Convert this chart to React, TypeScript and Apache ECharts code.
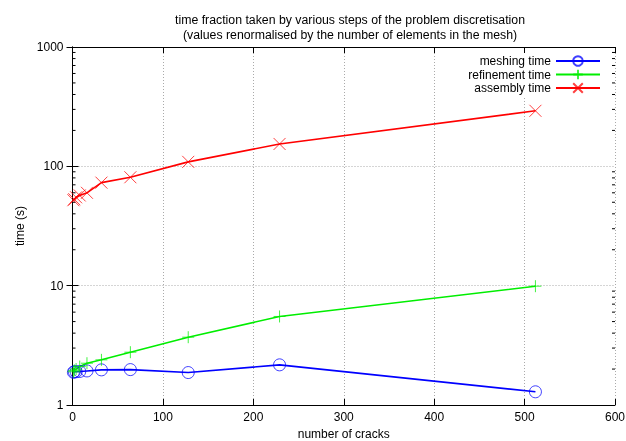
import React, { useEffect, useRef } from "react";
import * as echarts from "echarts";

const cracks = [1, 2, 4, 8, 16, 32, 64, 128, 229, 512];
const meshingTime = [1.88, 1.9, 1.9, 1.91, 1.93, 1.97, 1.98, 1.87, 2.17, 1.29];
const refinementTime = [1.9, 1.95, 2.0, 2.1, 2.24, 2.39, 2.77, 3.7, 5.52, 9.9];
const assemblyTime = [52, 53, 55, 57, 60, 73, 81, 109, 154, 292];
const xTicks = [0, 100, 200, 300, 400, 500, 600];
const yMinorTicks = [2, 3, 4, 5, 6, 7, 8, 9, 20, 30, 40, 50, 60, 70, 80, 90, 200, 300, 400, 500, 600, 700, 800, 900];
const titleLines = [
  "time fraction taken by various steps of the problem discretisation",
  "(values renormalised by the number of elements in the mesh)",
];

const FONT = "Liberation Sans";
const CROSS = "path://M0,0L10,10M10,0L0,10";
const PLUS = "path://M5,0L5,10M0,5L10,5";

export default function App() {
  const ref = useRef<HTMLDivElement>(null);
  useEffect(() => {
    const chart = echarts.init(ref.current!, null, { renderer: "svg" });
    const mk = (name: string, vals: number[], color: string, symbol: string, size: number) => ({
      name,
      type: "line",
      data: cracks.map((c, i) => [c, vals[i]]),
      symbol,
      symbolSize: size,
      showSymbol: true,
      lineStyle: { color, width: 1.6 },
      itemStyle: { color: "rgba(0,0,0,0)", borderColor: color, borderWidth: 1, opacity: 0.75 },
      emphasis: { disabled: true },
      z: 3,
    });
    chart.setOption({
      animation: false,
      textStyle: { fontFamily: FONT },
      title: {
        text: titleLines.join("\n"),
        left: 345,
        top: 7,
        textAlign: "center",
        textStyle: { fontSize: 12.3, fontWeight: "normal", color: "#000", lineHeight: 15, fontFamily: FONT },
      },
      legend: {
        data: ["meshing time", "refinement time", "assembly time"],
        orient: "vertical",
        right: 23,
        top: 53,
        align: "right",
        itemWidth: 44,
        itemHeight: 12,
        itemGap: 1.5,
        padding: [2, 2, 2, 2],
        backgroundColor: "#fff",
        textStyle: { fontSize: 12, color: "#000", fontFamily: FONT },
      },
      grid: { left: 72.5, right: 11, top: 47, bottom: 36, outerBoundsMode: "none", containLabel: false },
      xAxis: [
        {
          type: "value",
          min: xTicks[0],
          max: xTicks[xTicks.length - 1],
          interval: 100,
          name: "number of cracks",
          nameLocation: "middle",
          nameGap: 21,
          nameTextStyle: { fontSize: 12, color: "#000", fontFamily: FONT },
          axisLine: { lineStyle: { color: "#000", width: 1 } },
          axisTick: { inside: true, length: 6, lineStyle: { color: "#000" } },
          axisLabel: { fontSize: 12, color: "#000", margin: 6, fontFamily: FONT },
          splitLine: { show: true, lineStyle: { color: "#aaa", type: [1, 2] } },
        },
        {
          type: "value",
          position: "top",
          min: xTicks[0],
          max: xTicks[xTicks.length - 1],
          interval: 100,
          axisLine: { show: true, lineStyle: { color: "#000", width: 1 } },
          axisTick: { show: true, inside: true, length: 6, lineStyle: { color: "#000" } },
          axisLabel: { show: false },
          splitLine: { show: false },
        },
      ],
      yAxis: [
        {
          type: "log",
          logBase: 10,
          min: 1,
          max: 1000,
          name: "time (s)",
          nameLocation: "middle",
          nameGap: 39,
          nameTextStyle: { fontSize: 12, color: "#000", fontFamily: FONT },
          axisLine: { show: true, lineStyle: { color: "#000", width: 1 } },
          axisTick: { show: true, inside: true, length: 6, lineStyle: { color: "#000" } },
          axisLabel: { fontSize: 12, color: "#000", margin: 9, fontFamily: FONT, formatter: (v: number) => String(Math.round(v)) },
          splitLine: { show: true, lineStyle: { color: "#aaa", type: [1, 2] } },
        },
        {
          type: "log",
          logBase: 10,
          min: 1,
          max: 1000,
          position: "right",
          axisLine: { show: true, lineStyle: { color: "#000", width: 1 } },
          axisTick: { show: true, inside: true, length: 6, lineStyle: { color: "#000" } },
          axisLabel: { show: false },
          splitLine: { show: false },
        },
      ],
      series: [
        {
          type: "custom",
          name: "minorTicks",
          silent: true,
          clip: false,
          data: yMinorTicks.map((v) => [0, v]),
          renderItem: (params: any, api: any) => {
            const v = api.value(1);
            const l = api.coord([xTicks[0], v]);
            const r = api.coord([xTicks[xTicks.length - 1], v]);
            return {
              type: "group",
              children: [
                { type: "line", shape: { x1: l[0], y1: l[1], x2: l[0] + 3, y2: l[1] }, style: { stroke: "#000", lineWidth: 1 } },
                { type: "line", shape: { x1: r[0] - 3, y1: r[1], x2: r[0], y2: r[1] }, style: { stroke: "#000", lineWidth: 1 } },
              ],
            };
          },
        },
        mk("meshing time", meshingTime, "#0000ff", "circle", 12),
        mk("refinement time", refinementTime, "#00ee00", PLUS, 12),
        mk("assembly time", assemblyTime, "#ff0000", CROSS, 12),
      ],
    });
    return () => chart.dispose();
  }, []);
  return <div ref={ref} style={{ position: "fixed", left: 0, top: 0, width: 626, height: 441 }} />;
}
